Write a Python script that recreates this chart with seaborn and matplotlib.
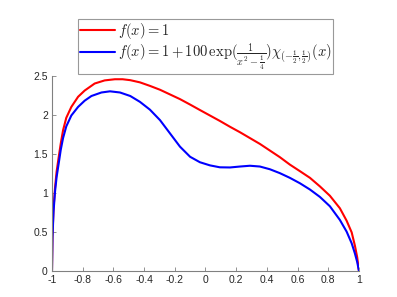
import numpy as np
import pandas as pd
import matplotlib as mpl
import matplotlib.pyplot as plt
import seaborn as sns

# Data
# --------------
x_red = [-1.0, -0.997, -0.99, -0.98, -0.97, -0.956, -0.943, -0.928, -0.907, -0.874,
         -0.83, -0.787, -0.722, -0.657, -0.59, -0.54, -0.49, -0.427, -0.362, -0.296,
         -0.231, -0.166, -0.10, -0.036, 0.029, 0.094, 0.16, 0.225, 0.29, 0.355,
         0.42, 0.485, 0.55, 0.616, 0.681, 0.746, 0.811, 0.876, 0.92, 0.953,
         0.974, 0.989, 1.0]
y_red = [0.0, 0.45, 0.80, 1.07, 1.27, 1.46, 1.63, 1.80, 1.96, 2.10,
         2.23, 2.31, 2.40, 2.44, 2.455, 2.455, 2.443, 2.415, 2.37, 2.32,
         2.26, 2.20, 2.13, 2.06, 1.99, 1.92, 1.845, 1.775, 1.70, 1.625,
         1.54, 1.455, 1.36, 1.275, 1.19, 1.08, 0.96, 0.80, 0.64, 0.49,
         0.32, 0.17, 0.0]

x_blue = [-1.0, -0.997, -0.99, -0.98, -0.97, -0.956, -0.943, -0.928, -0.907, -0.874,
          -0.83, -0.787, -0.743, -0.678, -0.622, -0.557, -0.49, -0.427, -0.362, -0.296,
          -0.231, -0.166, -0.10, -0.036, 0.029, 0.094, 0.16, 0.225, 0.29, 0.355,
          0.42, 0.485, 0.55, 0.616, 0.681, 0.746, 0.811, 0.876, 0.92, 0.953,
          0.974, 0.989, 1.0]
y_blue = [0.0, 0.42, 0.76, 1.02, 1.20, 1.38, 1.55, 1.70, 1.85, 1.99,
          2.10, 2.18, 2.24, 2.285, 2.30, 2.285, 2.24, 2.165, 2.065, 1.93,
          1.76, 1.59, 1.46, 1.39, 1.35, 1.325, 1.323, 1.335, 1.345, 1.335,
          1.30, 1.25, 1.19, 1.12, 1.04, 0.945, 0.825, 0.65, 0.50, 0.35,
          0.22, 0.11, 0.0]

label_red = r"$f(x) = 1$"
label_blue = r"$f(x) = 1 + 100\,\exp(\frac{1}{x^2-\frac{1}{4}})\chi_{(-\frac{1}{2},\frac{1}{2})}(x)$"

x_ticks = [-1, -0.8, -0.6, -0.4, -0.2, 0, 0.2, 0.4, 0.6, 0.8, 1]
x_ticklabels = ["-1", "-0.8", "-0.6", "-0.4", "-0.2", "0", "0.2", "0.4", "0.6", "0.8", "1"]
y_ticks = [0, 0.5, 1, 1.5, 2, 2.5]
y_ticklabels = ["0", "0.5", "1", "1.5", "2", "2.5"]

# Set-up
# --------------
sns.set_style("ticks")
plt.rcParams["font.family"] = ["Liberation Sans", "DejaVu Sans"]
plt.rcParams["mathtext.fontset"] = "cm"

fig = plt.figure(figsize=(3.97, 2.97), dpi=100)
ax = fig.add_axes([0.131, 0.089, 0.773, 0.656])

red_df = pd.DataFrame({"x": x_red, "y": y_red})
blue_df = pd.DataFrame({"x": x_blue, "y": y_blue})

sns.lineplot(data=red_df, x="x", y="y", color=(1, 0, 0), linewidth=1.5,
             estimator=None, label=label_red, ax=ax, legend=False)
sns.lineplot(data=blue_df, x="x", y="y", color=(0, 0, 1), linewidth=1.5,
             estimator=None, label=label_blue, ax=ax, legend=False)

ax.set_xlim(-1, 1)
ax.set_ylim(0, 2.5)
ax.set_xticks(x_ticks)
ax.set_xticklabels(x_ticklabels)
ax.set_yticks(y_ticks)
ax.set_yticklabels(y_ticklabels)
ax.set_xlabel("")
ax.set_ylabel("")

sns.despine(ax=ax)
for side in ["left", "bottom"]:
    ax.spines[side].set_color("#808080")
    ax.spines[side].set_linewidth(0.8)
ax.tick_params(direction="in", length=3, width=0.6, color="#808080",
               labelsize=7.5, labelcolor="#262626", pad=3)

handles, labels = ax.get_legend_handles_labels()
leg = fig.legend(handles, labels, loc="upper center", bbox_to_anchor=(0.518, 0.935),
                 fancybox=False, edgecolor="#808080", fontsize=10.5,
                 handlelength=2.4, handletextpad=0.2, borderpad=0.12,
                 labelspacing=0.0, borderaxespad=0)
leg.get_frame().set_linewidth(0.8)

# Rendering
# --------------
fig.savefig("out.png", dpi=100)
